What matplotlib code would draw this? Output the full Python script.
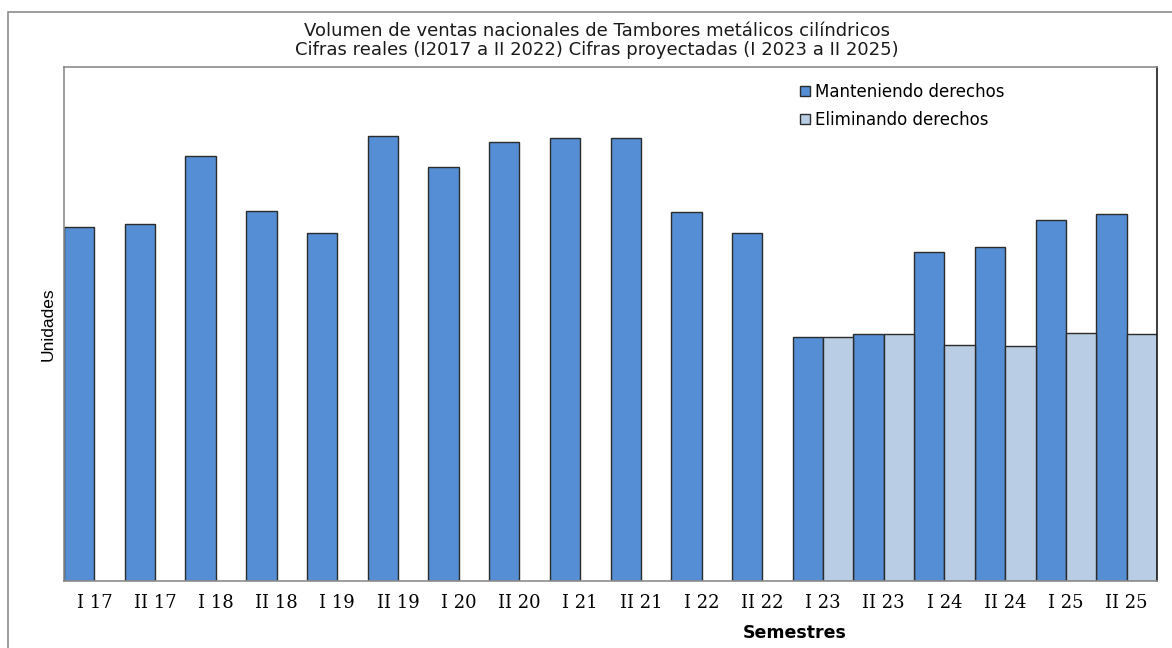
import numpy as np
import matplotlib.pyplot as plt
from matplotlib.patches import Rectangle

# --- data (arbitrary units) ---
semestres = ["I 17", "II 17", "I 18", "II 18", "I 19", "II 19", "I 20", "II 20",
             "I 21", "II 21", "I 22", "II 22", "I 23", "II 23", "I 24", "II 24",
             "I 25", "II 25"]
manteniendo = [354, 357, 425, 370, 348, 445, 414, 439, 443, 443, 369, 348,
               244, 247, 329, 334, 361, 367]
eliminando = [0, 0, 0, 0, 0, 0, 0, 0, 0, 0, 0, 0,
              244, 247, 236, 235, 248, 247]

color_mant = "#558ED5"
color_elim = "#B9CDE5"
edge = "#2b2b2b"

fig = plt.figure(figsize=(11.72, 6.48), dpi=100)
ax = fig.add_axes([64 / 1172, 67 / 648, (1157 - 64) / 1172, (581 - 67) / 648])

# outer frame of the chart
fig.patches.append(Rectangle((8 / 1172, -0.05), 1.2, 1 - 12 / 648 + 0.05,
                             transform=fig.transFigure, fill=False,
                             edgecolor="#8c8c8c", linewidth=1.2))

x = np.arange(len(semestres))
w = 0.5
ax.bar(x - w / 2, manteniendo, width=w, color=color_mant, edgecolor=edge,
       linewidth=1.0, label="Manteniendo derechos")
elim = np.array(eliminando, dtype=float)
mask = elim > 0
ax.bar(x[mask] + w / 2, elim[mask], width=w, color=color_elim, edgecolor=edge,
       linewidth=1.0, label="Eliminando derechos")

ax.set_xlim(-0.5, len(semestres) - 0.5)
ax.set_ylim(0, 514)
ax.set_yticks([])
ax.set_xticks(x)
ax.set_xticklabels(semestres, fontfamily="DejaVu Serif", fontsize=13)
ax.tick_params(axis="x", length=0, pad=9)

for side in ["left", "top", "bottom"]:
    ax.spines[side].set_color("#8c8c8c")
    ax.spines[side].set_linewidth(1.2)
ax.spines["right"].set_color("#1a1a1a")
ax.spines["right"].set_linewidth(1.2)

ax.set_ylabel("Unidades", fontfamily="Liberation Sans", fontsize=12.5, labelpad=6)

fig.text(597 / 1172, 1 - 31 / 648,
         "Volumen de ventas nacionales de Tambores metálicos cilíndricos",
         ha="center", va="center", fontsize=13, color="#1a1a1a")
fig.text(597 / 1172, 1 - 50 / 648,
         "Cifras reales (I2017 a II 2022) Cifras proyectadas (I 2023 a II 2025)",
         ha="center", va="center", fontsize=13, color="#1a1a1a")
fig.text(795 / 1172, 1 - 633 / 648, "Semestres", ha="center", va="center",
         fontsize=12.5, fontweight="bold")

leg = ax.legend(loc="upper left", bbox_to_anchor=((793 - 64) / 1093, 1 - 9 / 514),
                frameon=False, fontsize=12, handlelength=0.6, handleheight=0.6,
                handletextpad=0.3, labelspacing=0.6, borderaxespad=0)

fig.savefig("out.png", dpi=100)
